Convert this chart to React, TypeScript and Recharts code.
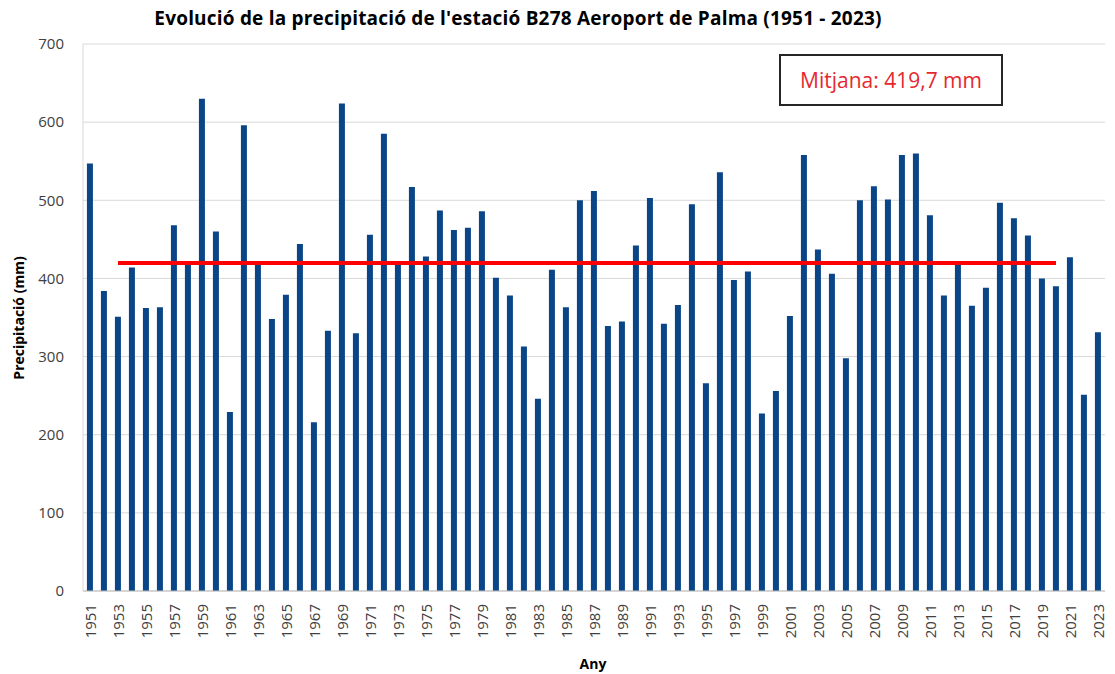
import React from "react";
import {
  Bar,
  CartesianGrid,
  ComposedChart,
  Line,
  XAxis,
  YAxis,
} from "recharts";

const years = [
  1951, 1952, 1953, 1954, 1955, 1956, 1957, 1958, 1959, 1960,
  1961, 1962, 1963, 1964, 1965, 1966, 1967, 1968, 1969, 1970,
  1971, 1972, 1973, 1974, 1975, 1976, 1977, 1978, 1979, 1980,
  1981, 1982, 1983, 1984, 1985, 1986, 1987, 1988, 1989, 1990,
  1991, 1992, 1993, 1994, 1995, 1996, 1997, 1998, 1999, 2000,
  2001, 2002, 2003, 2004, 2005, 2006, 2007, 2008, 2009, 2010,
  2011, 2012, 2013, 2014, 2015, 2016, 2017, 2018, 2019, 2020,
  2021, 2022, 2023,
];

const precipitacio = [
  547, 384, 351, 414, 362, 363, 468, 419, 630, 460,
  229, 596, 419, 348, 379, 444, 216, 333, 624, 330,
  456, 585, 419, 517, 428, 487, 462, 465, 486, 401,
  378, 313, 246, 411, 363, 500, 512, 339, 345, 442,
  503, 342, 366, 495, 266, 536, 398, 409, 227, 256,
  352, 558, 437, 406, 298, 500, 518, 501, 558, 560,
  481, 378, 419, 365, 388, 497, 477, 455, 400, 390,
  427, 251, 331,
];

const mitjana = 419.7;
const mitjanaInici = 1953;
const mitjanaFi = 2020;
const yTicks = [0, 100, 200, 300, 400, 500, 600, 700];

const data = years.map((y, i) => ({
  any: String(y),
  valor: precipitacio[i],
  mitjana: y >= mitjanaInici && y <= mitjanaFi ? mitjana : null,
}));

const FONT = "'Open Sans', sans-serif";

function YearTick(props: any) {
  const { x, y, payload } = props;
  return (
    <text
      x={x}
      y={y}
      transform={`rotate(-90, ${x}, ${y})`}
      textAnchor="end"
      dominantBaseline="central"
      fontSize={15}
      fontFamily={FONT}
      fill="#404040"
    >
      {payload.value}
    </text>
  );
}

export default function App() {
  return (
    <div
      style={{
        position: "absolute",
        left: 0,
        top: 0,
        width: 1115,
        height: 674,
        background: "#fff",
        fontFamily: FONT,
      }}
    >
      <ComposedChart
        width={1115}
        height={674}
        data={data}
        margin={{ top: 44, right: 10, bottom: 33, left: 0 }}
        barCategoryGap="28%"
      >
        <CartesianGrid stroke="#d9d9d9" vertical={false} />
        <XAxis
          dataKey="any"
          interval={1}
          height={50}
          tick={<YearTick />}
          tickLine={false}
          axisLine={{ stroke: "#bfbfbf" }}
          tickMargin={7}
        />
        <YAxis
          domain={[0, 700]}
          ticks={yTicks}
          width={83}
          tick={{ fill: "#404040", fontSize: 15, fontFamily: FONT }}
          tickLine={false}
          axisLine={{ stroke: "#d9d9d9" }}
          tickMargin={13}
        />
        <YAxis
          yAxisId="dreta"
          orientation="right"
          width={0}
          domain={[0, 700]}
          tick={false}
          tickLine={false}
          axisLine={{ stroke: "#d9d9d9" }}
        />
        <Bar dataKey="valor" fill="#0a4587" isAnimationActive={false} />
        <Line
          dataKey="mitjana"
          stroke="#ff0000"
          strokeWidth={4}
          dot={false}
          activeDot={false}
          isAnimationActive={false}
        />
      </ComposedChart>

      <div
        style={{
          position: "absolute",
          left: 0,
          width: 1036,
          top: 5,
          textAlign: "center",
          fontWeight: 700,
          fontSize: 19,
          letterSpacing: 0.2,
          color: "#000",
          whiteSpace: "nowrap",
        }}
      >
        Evolució de la precipitació de l'estació B278 Aeroport de Palma (1951 - 2023)
      </div>

      <div
        style={{
          position: "absolute",
          left: 18,
          top: 318,
          transform: "translate(-50%, -50%) rotate(-90deg)",
          fontWeight: 700,
          fontSize: 14,
          color: "#000",
          whiteSpace: "nowrap",
        }}
      >
        Precipitació (mm)
      </div>

      <div
        style={{
          position: "absolute",
          left: 593,
          top: 663,
          transform: "translate(-50%, -50%)",
          fontWeight: 700,
          fontSize: 14,
          color: "#000",
        }}
      >
        Any
      </div>

      <div
        style={{
          position: "absolute",
          left: 779,
          top: 54,
          width: 224,
          height: 52,
          boxSizing: "border-box",
          border: "2px solid #262626",
          background: "#fff",
          display: "flex",
          alignItems: "center",
          justifyContent: "center",
          color: "#e5282f",
          fontSize: 21,
        }}
      >
        Mitjana: 419,7 mm
      </div>
    </div>
  );
}
